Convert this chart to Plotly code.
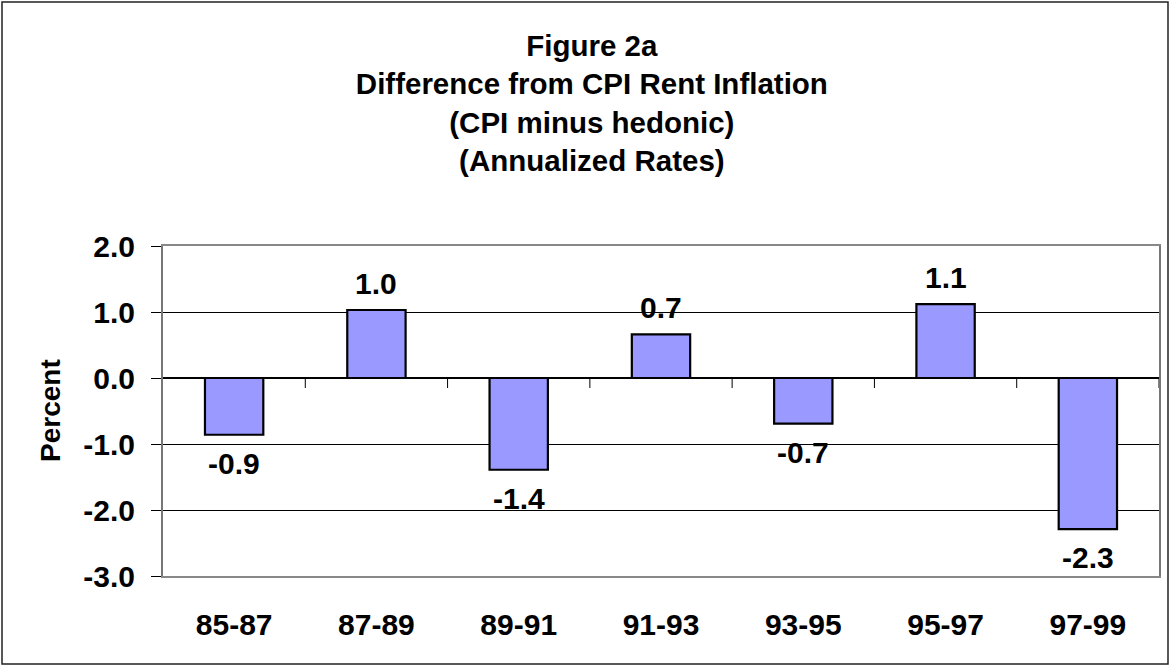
import plotly.graph_objects as go

# ---- data ----
categories = ["85-87", "87-89", "89-91", "91-93", "93-95", "95-97", "97-99"]
values = [-0.86, 1.03, -1.39, 0.66, -0.69, 1.12, -2.29]
y_ticks = [2.0, 1.0, 0.0, -1.0, -2.0, -3.0]
title_lines = ["Figure 2a", "Difference from CPI Rent Inflation",
               "(CPI minus hedonic)", "(Annualized Rates)"]
y_title = "Percent"

FONT = "Arial, 'Liberation Sans', Helvetica, sans-serif"
FS = 30

fig = go.Figure()
fig.add_trace(go.Bar(
    x=categories, y=values,
    marker=dict(color="#9999FF", line=dict(color="#000000", width=2.2)),
    width=0.41,
    hoverinfo="skip",
))

# data labels
for c, v in zip(categories, values):
    pos = v >= 0
    fig.add_annotation(
        x=c, y=v, xref="x", yref="y", text=f"{v:.1f}", showarrow=False,
        yanchor="bottom" if pos else "top", yshift=8 if pos else -10,
        font=dict(family=FONT, size=FS, color="black", weight="bold"),
    )

# category tick marks hanging below the zero line
for i in range(len(categories)):
    fig.add_shape(type="line", xref="x", yref="y", x0=i + 0.5, x1=i + 0.5,
                  ysizemode="pixel", yanchor=0, y0=0, y1=-10,
                  line=dict(color="#000000", width=1))

# y-axis title
fig.add_annotation(
    xref="paper", yref="paper", x=0, y=0.5, xshift=-113, text=y_title,
    textangle=-90, showarrow=False, xanchor="center", yanchor="middle",
    font=dict(family=FONT, size=28, color="black", weight="bold"),
)

# outer chart border
fig.add_shape(type="rect", xref="paper", yref="paper",
              xsizemode="pixel", ysizemode="pixel", xanchor=0, yanchor=0,
              x0=-161, x1=1005, y0=-88, y1=574,
              line=dict(color="#222222", width=1.5), layer="below")

fig.update_layout(
    width=1172, height=669,
    margin=dict(l=163, r=13, t=246, b=93, autoexpand=False),
    paper_bgcolor="white", plot_bgcolor="white",
    showlegend=False,
    font=dict(family=FONT, color="black"),
    title=dict(
        text="<br>".join(title_lines), x=0.505, xref="container", xanchor="center",
        y=1 - 56 / 669, yref="container", yanchor="top",
        font=dict(family=FONT, size=29.5, color="black", weight="bold"),
    ),
    xaxis=dict(
        type="category", range=[-0.5, len(categories) - 0.5],
        showline=True, linecolor="#888888", linewidth=2, mirror=True,
        showgrid=False, ticks="", ticklabelstandoff=21,
        tickfont=dict(family=FONT, size=FS, color="black", weight="bold"),
    ),
    yaxis=dict(
        range=[-3, 2], tickvals=y_ticks, ticktext=[f"{t:.1f}" for t in y_ticks],
        showline=True, linecolor="#777777", linewidth=2, mirror=True,
        showgrid=True, gridcolor="#000000", gridwidth=1,
        zeroline=True, zerolinecolor="#000000", zerolinewidth=1.5,
        ticks="outside", ticklen=10, tickcolor="#000000", tickwidth=1,
        ticklabelstandoff=10,
        tickfont=dict(family=FONT, size=FS, color="black", weight="bold"),
    ),
)

fig.write_html("out.html", config={"displayModeBar": False},
               post_script="document.body.style.margin='0';")
